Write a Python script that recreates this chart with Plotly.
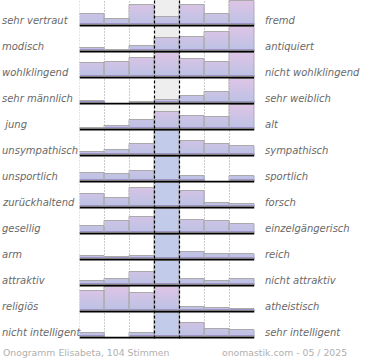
import plotly.graph_objects as go

# ---------------- data ----------------
left_labels = ["sehr vertraut", "modisch", "wohlklingend", "sehr männlich", " jung",
               "unsympathisch", "unsportlich", "zurückhaltend", "gesellig", "arm",
               "attraktiv", "religiös", "nicht intelligent"]
right_labels = ["fremd", "antiquiert", "nicht wohlklingend", "sehr weiblich", "alt",
                "sympathisch", "sportlich", "forsch", "einzelgängerisch", "reich",
                "nicht attraktiv", "atheistisch", "sehr intelligent"]
# bar heights per row (7 answer steps); row scale max = 24, larger values overflow
v_vertraut = [11.3, 6.3, 19.7, 8, 19.7, 11.3, 24]
v_modisch = [2.7, 1.3, 4.7, 12.7, 13.7, 19, 24]
v_wohlklingend = [14, 15, 18.7, 24, 17.7, 15, 24]
v_maennlich = [2.5, 0, 1, 3.3, 7, 11, 24]
v_jung = [1.3, 3.3, 9.3, 17.3, 12.7, 11.7, 24]
v_unsympathisch = [3.3, 5.3, 10.7, 47, 14, 10.7, 8.7]
v_unsportlich = [8.3, 6.7, 9.7, 66, 4.7, 0, 4.7]
v_zurueckhaltend = [13, 9.2, 19.3, 35, 16, 3.7, 3.4]
v_gesellig = [6.7, 12, 16, 31, 13, 12, 9]
v_arm = [3, 1.7, 3, 75, 7.3, 5.3, 5]
v_attraktiv = [4.3, 6.3, 13.3, 60, 6.3, 4, 6.3]
v_religioes = [19.7, 24, 18.3, 23.7, 4.3, 3.3, 2]
v_intelligent = [4, 0, 4, 64, 14, 7.7, 6.7]
rows = [v_vertraut, v_modisch, v_wohlklingend, v_maennlich, v_jung, v_unsympathisch,
        v_unsportlich, v_zurueckhaltend, v_gesellig, v_arm, v_attraktiv, v_religioes,
        v_intelligent]
footer_left = "Onogramm Elisabeta, 104 Stimmen"
footer_right = "onomastik.com - 05 / 2025"

# ---------------- style / layout ----------------
W, H = 370, 360
ROW_MAX = 24.0
PITCH = 26.0
NROW = len(rows)
NCOL = 7
BLUE = (186, 194, 228)
PINK = (222, 196, 230)
FLAT = (194, 204, 234)
X0, X1 = 79.5, 254.5


def base_of(i):
    return (NROW - 1 - i) * PITCH


def mix(t):
    c = [round(BLUE[k] + (PINK[k] - BLUE[k]) * t) for k in range(3)]
    return f"rgb({c[0]},{c[1]},{c[2]})"


xs, bases, vals = [], [], []
for i, r in enumerate(rows):
    for j, v in enumerate(r):
        xs.append(j + 0.5)
        bases.append(base_of(i))
        vals.append(v)

fig = go.Figure()

# gradient slices for non-overflow bars
NS = 12
step = ROW_MAX / NS
for k in range(NS):
    hs = []
    for v in vals:
        if v > ROW_MAX:
            hs.append(0)
        else:
            hs.append(max(0.0, min(v - k * step, step)))
    fig.add_trace(go.Bar(
        x=xs, y=hs, base=[b + k * step for b in bases], width=1.0,
        marker=dict(color=mix((k + 0.5) / NS), line=dict(width=0)),
        hoverinfo="skip", showlegend=False))

# overflowing bars drawn flat, clipped at row height
fig.add_trace(go.Bar(
    x=xs, y=[ROW_MAX if v > ROW_MAX else 0 for v in vals], base=bases, width=1.0,
    marker=dict(color="rgb(%d,%d,%d)" % FLAT, line=dict(width=0)),
    hoverinfo="skip", showlegend=False))

# darker bottom band
fig.add_trace(go.Bar(
    x=xs, y=[min(v, 1.6) for v in vals], base=bases, width=1.0,
    marker=dict(color="rgb(160,146,196)", line=dict(width=0)),
    hoverinfo="skip", showlegend=False))

# bar outlines
fig.add_trace(go.Bar(
    x=xs, y=[min(v, ROW_MAX) if v > 0 else None for v in vals], base=bases, width=1.0,
    marker=dict(color="rgba(0,0,0,0)", line=dict(width=1, color="rgb(170,170,170)")),
    hoverinfo="skip", showlegend=False))

shapes = []
top_y = base_of(0) + PITCH - 1
bot_y = -1.5
# centre column background
shapes.append(dict(type="rect", xref="x", yref="y", x0=3, x1=4, y0=bot_y, y1=top_y,
                   fillcolor="rgb(238,238,238)", line=dict(width=0), layer="below"))
for gx in [0, 1, 2, 5, 6]:
    shapes.append(dict(type="line", xref="x", yref="y", x0=gx, x1=gx, y0=bot_y, y1=top_y,
                       line=dict(color="rgb(150,150,150)", width=1, dash="1px,2px"), layer="below"))
for gx in [3, 4]:
    shapes.append(dict(type="line", xref="x", yref="y", x0=gx, x1=gx, y0=bot_y, y1=top_y,
                       line=dict(color="black", width=1.2, dash="3px,2px"), layer="above"))
for i in range(NROW):
    b = base_of(i)
    shapes.append(dict(type="line", xref="x", yref="y", x0=0, x1=NCOL, y0=b - 0.6, y1=b - 0.6,
                       line=dict(color="black", width=1.6), layer="above"))

annotations = []
lab_font = dict(family="DejaVu Sans", size=10, color="rgb(105,105,105)", style="italic")
for i in range(NROW):
    b = base_of(i)
    annotations.append(dict(x=0, xref="paper", y=b + 5, yref="y", text=left_labels[i],
                            showarrow=False, xanchor="left", yanchor="middle", font=lab_font))
    annotations.append(dict(x=263 / W, xref="paper", y=b + 5, yref="y", text=right_labels[i],
                            showarrow=False, xanchor="left", yanchor="middle", font=lab_font))
foot_font = dict(family="DejaVu Sans", size=9.3, color="rgb(175,175,175)")
annotations.append(dict(x=1 / W, xref="paper", y=-15, yref="y", text=footer_left,
                        showarrow=False, xanchor="left", yanchor="middle", font=foot_font))
annotations.append(dict(x=220 / W, xref="paper", y=-15, yref="y", text=footer_right,
                        showarrow=False, xanchor="left", yanchor="middle", font=foot_font))

fig.update_layout(
    width=W, height=H, margin=dict(l=0, r=0, t=0, b=0),
    paper_bgcolor="white", plot_bgcolor="rgba(0,0,0,0)",
    barmode="overlay", bargap=0,
    xaxis=dict(domain=[X0 / W, X1 / W], range=[0, NCOL], visible=False, fixedrange=True),
    yaxis=dict(domain=[0, 1], range=[-23, 337], visible=False, fixedrange=True),
    shapes=shapes, annotations=annotations, showlegend=False,
)

fig.write_html("out.html", config={"displayModeBar": False},
               post_script="document.body.style.margin='0';document.body.style.overflow='hidden';")
